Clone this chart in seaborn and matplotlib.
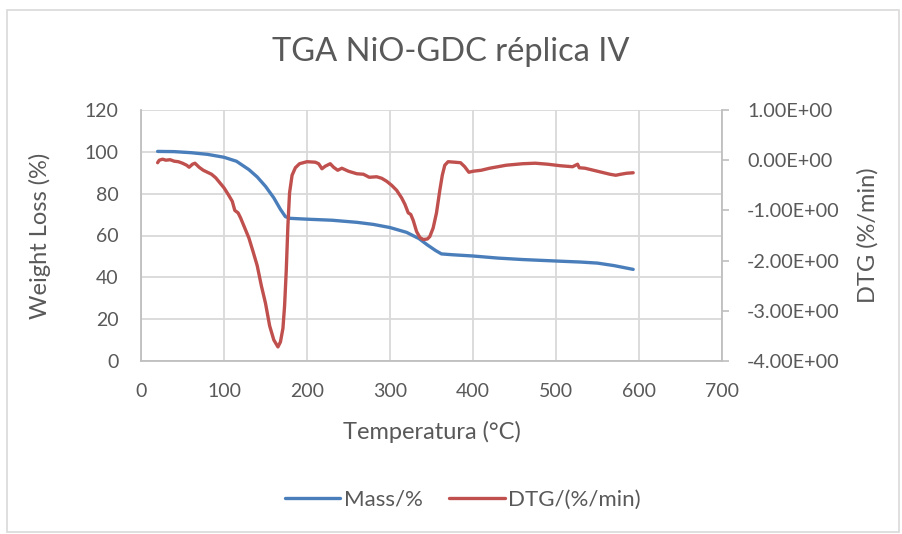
import matplotlib
matplotlib.use("Agg")
import matplotlib.pyplot as plt
import seaborn as sns
import pandas as pd
from matplotlib.ticker import FuncFormatter, MultipleLocator
from matplotlib.patches import Rectangle

# ---- data ----
temp_mass = [20, 40, 60, 80, 100, 115, 130, 140, 150, 160, 168, 174, 180, 200, 230, 260, 280,
             300, 320, 335, 345, 355, 362, 375, 400, 430, 460, 500, 530, 550, 570, 593]
mass = [100.2, 100.1, 99.6, 98.8, 97.4, 95.5, 91.5, 88.0, 83.5, 78.0, 72.5, 69.0, 68.2, 67.8,
        67.3, 66.3, 65.3, 63.8, 61.5, 58.5, 55.5, 52.8, 51.2, 50.8, 50.2, 49.2, 48.5, 47.8,
        47.3, 46.8, 45.6, 43.8]

temp_dtg = [20, 22, 26, 30, 35, 40, 45, 50, 55, 58, 62, 65, 70, 75, 80, 85, 90, 95, 100, 105,
            110, 113, 117, 120, 125, 130, 135, 140, 145, 150, 155, 160, 165, 168, 171, 173, 175,
            177, 179, 182, 186, 191, 200, 210, 214, 218, 222, 228, 232, 237, 242, 250, 260, 268,
            275, 284, 290, 296, 302, 308, 314, 318, 322, 325, 328, 332, 336, 340, 345, 348, 352,
            356, 360, 363, 366, 370, 378, 385, 390, 395, 400, 410, 420, 440, 460, 475, 490, 505,
            520, 526, 528, 535, 545, 555, 565, 572, 578, 585, 593]
dtg = [-0.05, 0.0, 0.02, 0.0, 0.01, -0.02, -0.03, -0.06, -0.10, -0.14, -0.08, -0.06, -0.14,
       -0.20, -0.24, -0.28, -0.35, -0.45, -0.55, -0.68, -0.82, -1.00, -1.05, -1.15, -1.35, -1.55,
       -1.82, -2.10, -2.50, -2.85, -3.30, -3.58, -3.72, -3.62, -3.35, -2.90, -2.20, -1.30, -0.65,
       -0.30, -0.15, -0.07, -0.03, -0.04, -0.07, -0.17, -0.12, -0.07, -0.14, -0.20, -0.16, -0.22,
       -0.27, -0.28, -0.34, -0.33, -0.36, -0.42, -0.50, -0.60, -0.75, -0.88, -1.05, -1.08, -1.20,
       -1.42, -1.54, -1.58, -1.57, -1.52, -1.35, -1.05, -0.60, -0.30, -0.10, -0.03, -0.04, -0.05,
       -0.13, -0.24, -0.22, -0.20, -0.16, -0.10, -0.07, -0.06, -0.08, -0.11, -0.13, -0.08, -0.15,
       -0.16, -0.20, -0.24, -0.28, -0.30, -0.28, -0.26, -0.25]

title = "TGA NiO-GDC réplica IV"
xlabel = "Temperatura (°C)"
ylabel_left = "Weight Loss (%)"
ylabel_right = "DTG (%/min)"
series_names = ["Mass/%", "DTG/(%/min)"]

# ---- style ----
sns.set_theme(style="white")
plt.rcParams['font.family'] = ['Lato', 'DejaVu Sans']
txt = "#595959"
grid_c = "#d9d9d9"
blue = "#4a7ebb"
red = "#c0504d"

fig = plt.figure(figsize=(9.02, 5.34), dpi=100)
ax = fig.add_axes([141/902, 1-361/534, (722-141)/902, (361-110)/534])
ax2 = ax.twinx()

df_m = pd.DataFrame({"T": temp_mass, "v": mass})
df_d = pd.DataFrame({"T": temp_dtg, "v": dtg})
sns.lineplot(data=df_m, x="T", y="v", ax=ax, color=blue, lw=2.4, label=series_names[0], legend=False)
sns.lineplot(data=df_d, x="T", y="v", ax=ax2, color=red, lw=2.4, label=series_names[1], legend=False)

ax.set_xlim(0, 700)
ax.set_ylim(0, 120)
ax2.set_ylim(-4, 1)
ax.xaxis.set_major_locator(MultipleLocator(100))
ax.yaxis.set_major_locator(MultipleLocator(20))
ax2.yaxis.set_major_locator(MultipleLocator(1))
ax2.yaxis.set_major_formatter(FuncFormatter(lambda v, p: f"{v:.2E}"))

ax.grid(True, color=grid_c, lw=1.3)
ax2.grid(False)
ax.set_axisbelow(True)

for a in (ax, ax2):
    for s in a.spines.values():
        s.set_visible(False)
for a, side in ((ax, 'left'), (ax, 'bottom'), (ax2, 'right')):
    a.spines[side].set_visible(True)
    a.spines[side].set_color("#bfbfbf")
    a.spines[side].set_linewidth(1.3)

ax.tick_params(axis='y', length=0, labelsize=14, labelcolor=txt, pad=16)
ax.tick_params(axis='x', length=0, labelsize=14, labelcolor=txt, pad=16)
ax2.tick_params(axis='y', length=5, width=1.2, color="#bfbfbf", labelsize=14.3, labelcolor=txt, pad=13)

ax.set_xlabel(xlabel, fontsize=17, color=txt)
ax.set_ylabel(ylabel_left, fontsize=17, color=txt)
ax2.set_ylabel(ylabel_right, fontsize=17, color=txt)
ax.xaxis.set_label_coords(0.5, (361-432)/251)
ax.xaxis.label.set_va('center')
ax.yaxis.set_label_coords((40-141)/581, 0.5)
ax.yaxis.label.set_va('center')
ax2.yaxis.set_label_coords((868-141)/581, 0.5)
ax2.yaxis.label.set_va('center')

fig.suptitle(title, fontsize=23.5, color=txt, y=1-52/534, va='center')

h1, l1 = ax.get_legend_handles_labels()
h2, l2 = ax2.get_legend_handles_labels()
fig.legend(h1 + h2, l1 + l2, loc='center', bbox_to_anchor=(0.513, 1-500/534), ncol=2,
           frameon=False, fontsize=16, labelcolor=txt, handlelength=2.5, columnspacing=1.2,
           handletextpad=0.15)

fig.patches.append(Rectangle((7/902, 1-532/534), (899-7)/902, (532-10)/534, transform=fig.transFigure,
                             fill=False, edgecolor="#d9d9d9", lw=1.2))

fig.savefig("out.png", dpi=100)
